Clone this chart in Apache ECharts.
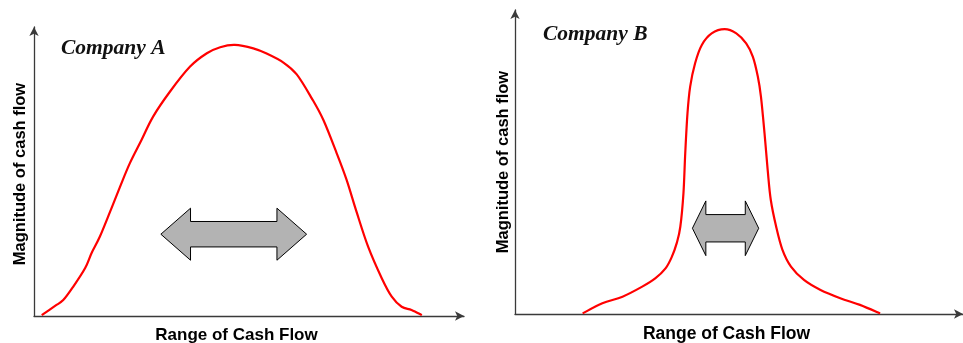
<!DOCTYPE html>
<html>
<head>
<meta charset="utf-8">
<script src="https://cdn.jsdelivr.net/npm/echarts@6/dist/echarts.min.js"></script>
<style>
  html, body { margin: 0; padding: 0; background: #fff; }
  #chart { width: 963px; height: 343px; }
</style>
</head>
<body>
<div id="chart"></div>
<script>
// Cash-flow distribution curves, x = position in the range (0-100), y = magnitude (0-100)
const companyAX = [1.8, 4.9, 6.8, 9.1, 11.9, 13.4, 15.3, 17.7, 20.0, 22.3, 25.0, 27.7, 31.6, 36.3, 40.2, 43.3, 46.7,
                   51.0, 54.1, 58.0, 61.1, 64.6, 67.3, 70.4, 72.7, 75.0, 77.7, 80.9, 83.2, 85.5, 87.8, 90.2];
const companyAY = [0.3, 3.5, 5.5, 10.1, 16.6, 21.8, 27.4, 36.1, 44.7, 52.9, 60.9, 69.0, 77.6, 86.3, 90.9, 93.0, 93.8,
                   92.6, 90.8, 87.7, 83.6, 75.3, 67.8, 56.3, 47.1, 36.1, 24.0, 13.0, 6.7, 3.2, 2.1, 0.3];

const companyBX = [15.1, 19.5, 24.0, 28.4, 31.3, 33.6, 35.0, 36.1, 36.9, 37.6, 38.0, 38.5, 39.1, 40.2, 41.7, 43.9, 46.8,
                   49.4, 51.6, 53.1, 54.2, 54.9, 55.7, 56.4, 57.1, 58.3, 59.7, 61.6, 64.5, 68.2, 72.6, 77.0, 81.5];
const companyBY = [0.2, 3.5, 5.7, 9.0, 11.7, 15.0, 18.8, 23.3, 28.7, 39.7, 52.9, 66.0, 74.8, 82.5, 88.5, 92.3, 93.7,
                   92.3, 89.0, 84.6, 78.1, 71.5, 59.4, 47.4, 37.5, 28.7, 21.1, 15.6, 11.2, 7.9, 5.2, 3.0, 0.2];

// Spread arrows: [left tip x, right tip x, centre y, head half-height, shaft half-height, head length]
const spreadA = [29.5, 63.4, 28.3, 9.0, 4.4, 6.9];
const spreadB = [39.6, 54.4, 28.2, 9.0, 4.5, 3.0];

const panelTitles = ['Company A', 'Company B'];
const xAxisTitle = 'Range of Cash Flow';
const yAxisTitle = 'Magnitude of cash flow';

const zip = (xs, ys) => xs.map((x, i) => [x, ys[i]]);
const curves = [zip(companyAX, companyAY), zip(companyBX, companyBY)];

const chart = echarts.init(document.getElementById('chart'), null, { renderer: 'canvas' });

const axisLine = {
  show: true,
  symbol: ['none', 'arrow'],
  symbolSize: [7, 9],
  lineStyle: { color: '#3a3a3a', width: 1.3 }
};

function makeAxis(gridIndex) {
  return {
    type: 'value', gridIndex, min: 0, max: 100,
    axisLine, axisTick: { show: false }, axisLabel: { show: false }, splitLine: { show: false }
  };
}

// Smooth curve through the points (Catmull-Rom converted to cubic Beziers) in screen space
function curveItem(params, api) {
  const pts = curves[api.value(0)].map(d => api.coord(d));
  let path = 'M' + pts[0][0] + ' ' + pts[0][1];
  for (let i = 0; i < pts.length - 1; i++) {
    const p0 = pts[Math.max(i - 1, 0)], p1 = pts[i], p2 = pts[i + 1], p3 = pts[Math.min(i + 2, pts.length - 1)];
    const c1x = p1[0] + (p2[0] - p0[0]) / 6, c1y = p1[1] + (p2[1] - p0[1]) / 6;
    const c2x = p2[0] - (p3[0] - p1[0]) / 6, c2y = p2[1] - (p3[1] - p1[1]) / 6;
    path += ' C' + c1x + ' ' + c1y + ' ' + c2x + ' ' + c2y + ' ' + p2[0] + ' ' + p2[1];
  }
  return {
    type: 'path',
    shape: { pathData: path },
    style: { fill: 'none', stroke: '#ff0000', lineWidth: 2.2 }
  };
}

function arrowItem(params, api) {
  const xl = api.value(0), xr = api.value(1), yc = api.value(2);
  const hh = api.value(3), sh = api.value(4), hl = api.value(5);
  const p = (x, y) => api.coord([x, y]);
  const pts = [
    p(xl, yc), p(xl + hl, yc + hh), p(xl + hl, yc + sh), p(xr - hl, yc + sh), p(xr - hl, yc + hh),
    p(xr, yc), p(xr - hl, yc - hh), p(xr - hl, yc - sh), p(xl + hl, yc - sh), p(xl + hl, yc - hh)
  ];
  return {
    type: 'polygon',
    shape: { points: pts },
    style: { fill: '#b3b3b3', stroke: '#000', lineWidth: 1 }
  };
}

const titleFont = { fontFamily: 'Liberation Serif', fontWeight: 'bold', fontStyle: 'italic', fontSize: 21.5, fill: '#111' };
const axisFont = { fontFamily: 'Liberation Sans', fontWeight: 'bold', fontSize: 17, fill: '#000' };

chart.setOption({
  animation: false,
  backgroundColor: '#ffffff',
  grid: [
    { left: 34, top: 27, width: 430, height: 289 },
    { left: 515, top: 10, width: 452, height: 304 }
  ],
  xAxis: [makeAxis(0), makeAxis(1)],
  yAxis: [makeAxis(0), makeAxis(1)],
  series: [
    { type: 'custom', xAxisIndex: 0, yAxisIndex: 0, data: [[0]], renderItem: curveItem, clip: false },
    { type: 'custom', xAxisIndex: 1, yAxisIndex: 1, data: [[1]], renderItem: curveItem, clip: false },
    { type: 'custom', xAxisIndex: 0, yAxisIndex: 0, data: [spreadA], renderItem: arrowItem },
    { type: 'custom', xAxisIndex: 1, yAxisIndex: 1, data: [spreadB], renderItem: arrowItem }
  ],
  graphic: [
    { type: 'text', x: 61, y: 48, style: Object.assign({ text: panelTitles[0], verticalAlign: 'middle' }, titleFont) },
    { type: 'text', x: 543, y: 34.5, style: Object.assign({ text: panelTitles[1], verticalAlign: 'middle' }, titleFont) },
    { type: 'text', x: 236.5, y: 335, style: Object.assign({ text: xAxisTitle, align: 'center', verticalAlign: 'middle' }, axisFont) },
    { type: 'text', x: 726.5, y: 334.5, style: Object.assign({ text: xAxisTitle, align: 'center', verticalAlign: 'middle' }, axisFont, { fontSize: 17.5 }) },
    { type: 'text', x: 20, y: 174, rotation: Math.PI / 2,
      style: Object.assign({ text: yAxisTitle, align: 'center', verticalAlign: 'middle' }, axisFont, { fontSize: 16.5 }) },
    { type: 'text', x: 503, y: 162, rotation: Math.PI / 2,
      style: Object.assign({ text: yAxisTitle, align: 'center', verticalAlign: 'middle' }, axisFont, { fontSize: 16.5 }) }
  ]
});
</script>
</body>
</html>
